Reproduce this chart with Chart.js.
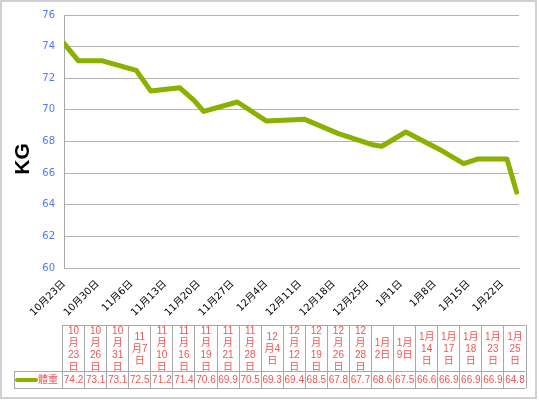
<!DOCTYPE html>
<html>
<head>
<meta charset="utf-8">
<title>體重</title>
<script src="https://cdn.jsdelivr.net/npm/chart.js@4.4.0/dist/chart.umd.min.js"></script>
<style>
    html, body { margin: 0; padding: 0; background: #fff; }
    #wrap { width: 539px; height: 402px; }
</style>
</head>
<body>
<div id="wrap"><canvas id="kayra" width="539" height="402"></canvas></div>
<script>
// data
const seriesName = '體重';
const axisTitle = 'KG';
const dates = [ '10/23', '10/26', '10/31', '11/7', '11/10', '11/16', '11/19', '11/21', '11/28', '12/4', '12/12',
    '12/19', '12/26', '12/28', '1/2', '1/9', '1/14', '1/17', '1/18', '1/23', '1/25' ];
const weights = [ 74.2, 73.1, 73.1, 72.5, 71.2, 71.4, 70.6, 69.9, 70.5, 69.3, 69.4,
    68.5, 67.8, 67.7, 68.6, 67.5, 66.6, 66.9, 66.9, 66.9, 64.8 ];
const tickDates = [ '10/23', '10/30', '11/6', '11/13', '11/20', '11/27', '12/4', '12/11', '12/18', '12/25',
    '1/1', '1/8', '1/15', '1/22' ];
const yTicks = [ 60, 62, 64, 66, 68, 70, 72, 74, 76 ];

const COLORS = {
    line: 'rgb(138, 176, 0)',
    red: 'rgb(240, 84, 84)',
    blue: 'rgb(80, 120, 250)',
    grid: 'rgb(180, 180, 180)',
    border: 'rgb(168, 168, 168)',
    frame: 'rgb(208, 208, 208)'
};
const FONT = '"Liberation Sans", "DejaVu Sans", "Noto Sans CJK TC", sans-serif';
const AXIS_FONT = '"DejaVu Sans", "Noto Sans CJK TC", sans-serif';

// days counted from the first date (oct-dec in the first year, jan in the next)
function dayNumber( d )
{
    const parts = d.split( '/' );
    const m = parseInt( parts[ 0 ] ), day = parseInt( parts[ 1 ] );
    const year = m >= 10 ? 2010 : 2011;
    return Math.round( ( Date.UTC( year, m - 1, day ) - Date.UTC( 2010, 9, 23 ) ) / 86400000 );
}

function dateLabel( d )
{
    const parts = d.split( '/' );
    return parts[ 0 ] + '月' + parts[ 1 ] + '日';
}

// split into digit groups and single characters, then wrap greedily
function wrapLabel( ctx, text, maxW )
{
    const tokens = text.match( /\d+|./g );
    const lines = [];
    let cur = '';
    tokens.forEach( function ( t )
    {
        if ( cur && ctx.measureText( cur + t ).width > maxW )
        {
            lines.push( cur );
            cur = t;
        }
        else
        {
            cur += t;
        }
    } );
    if ( cur ) lines.push( cur );
    return lines;
}

const tablePlugin = {
    id: 'dataTable',
    beforeDraw: function ( chart )
    {
        const ctx = chart.ctx;
        ctx.save();
        ctx.fillStyle = '#fff';
        ctx.fillRect( 0, 0, chart.width, chart.height );
        ctx.restore();
    },
    afterDraw: function ( chart )
    {
        const ctx = chart.ctx;
        const legendLeft = 14, tableLeft = 62, tableRight = 525.5;
        const headTop = 325, rowTop = 371, rowBottom = 388;
        const colW = ( tableRight - tableLeft ) / dates.length;

        ctx.save();

        // outer frame
        ctx.strokeStyle = COLORS.frame;
        ctx.lineWidth = 2;
        ctx.strokeRect( 1, 1, 535, 397 );

        // axis title
        ctx.save();
        ctx.translate( 23, 159 );
        ctx.rotate( -Math.PI / 2 );
        ctx.fillStyle = '#000';
        ctx.font = 'bold 21px "Liberation Sans Narrow", "Liberation Sans", sans-serif';
        ctx.textAlign = 'center';
        ctx.textBaseline = 'middle';
        ctx.fillText( axisTitle, 0, 0 );
        ctx.restore();

        // grid of the table
        ctx.strokeStyle = COLORS.border;
        ctx.lineWidth = 1;
        ctx.beginPath();
        ctx.moveTo( tableLeft, headTop + .5 );
        ctx.lineTo( tableRight, headTop + .5 );
        ctx.moveTo( legendLeft, rowTop + .5 );
        ctx.lineTo( tableRight, rowTop + .5 );
        ctx.moveTo( legendLeft, rowBottom + .5 );
        ctx.lineTo( tableRight, rowBottom + .5 );
        ctx.moveTo( legendLeft + .5, rowTop );
        ctx.lineTo( legendLeft + .5, rowBottom );
        for ( let i = 0; i <= dates.length; i++ )
        {
            const x = Math.round( tableLeft + i * colW ) + .5;
            ctx.moveTo( x, headTop );
            ctx.lineTo( x, rowBottom );
        }
        ctx.stroke();

        // header and value texts
        ctx.fillStyle = COLORS.red;
        ctx.font = '10px ' + FONT;
        ctx.textAlign = 'center';
        ctx.textBaseline = 'middle';
        const lineH = 12;
        const headMid = ( headTop + rowTop ) / 2 + 1;
        dates.forEach( function ( d, i )
        {
            const cx = tableLeft + ( i + .5 ) * colW + .5;
            const lines = wrapLabel( ctx, dateLabel( d ), 20 );
            const y0 = headMid - ( lines.length - 1 ) * lineH / 2;
            lines.forEach( function ( l, j )
            {
                ctx.fillText( l, cx, y0 + j * lineH );
            } );
            ctx.fillText( weights[ i ].toFixed( 1 ), cx, ( rowTop + rowBottom ) / 2 + 1 );
        } );

        // legend key
        ctx.strokeStyle = COLORS.line;
        ctx.lineWidth = 4;
        ctx.lineCap = 'round';
        ctx.beginPath();
        ctx.moveTo( 17, 380 );
        ctx.lineTo( 36, 380 );
        ctx.stroke();
        ctx.textAlign = 'left';
        ctx.fillText( seriesName, 38, 380 );

        ctx.restore();
    }
};

const points = dates.map( function ( d, i )
{
    return { x: dayNumber( d ), y: weights[ i ] };
} );

const config = {
    type: 'line',
    data: {
        datasets: [
            {
                label: seriesName,
                data: points,
                borderColor: COLORS.line,
                backgroundColor: COLORS.line,
                borderWidth: 5,
                borderCapStyle: 'round',
                borderJoinStyle: 'round',
                pointRadius: 0,
                tension: 0
            }
        ]
    },
    options: {
        responsive: false,
        animation: false,
        layout: {
            padding: { left: 10, top: 14, right: 20, bottom: 78 }
        },
        plugins: {
            legend: { display: false },
            tooltip: { enabled: false },
            title: { display: false }
        },
        scales: {
            x: {
                type: 'linear',
                min: 0,
                max: dayNumber( '1/25' ) + .5,
                afterFit: function ( scale ) { scale.height = 56; },
                afterBuildTicks: function ( scale )
                {
                    scale.ticks = tickDates.map( function ( d ) { return { value: dayNumber( d ) }; } );
                },
                ticks: {
                    autoSkip: false,
                    maxRotation: 45,
                    minRotation: 45,
                    padding: 10,
                    color: '#000',
                    font: { family: AXIS_FONT, size: 10 },
                    callback: function ( value )
                    {
                        const d = tickDates.find( function ( t ) { return dayNumber( t ) === value; } );
                        return d ? dateLabel( d ) : '';
                    }
                },
                grid: { display: false, drawTicks: false },
                border: { display: true, color: COLORS.grid, width: 1 }
            },
            y: {
                min: yTicks[ 0 ],
                max: yTicks[ yTicks.length - 1 ],
                afterFit: function ( scale ) { scale.width = 54; },
                afterBuildTicks: function ( scale )
                {
                    scale.ticks = yTicks.map( function ( v ) { return { value: v }; } );
                },
                ticks: {
                    padding: 9,
                    color: COLORS.blue,
                    font: { family: AXIS_FONT, size: 10 }
                },
                grid: { color: COLORS.grid, lineWidth: 1, drawTicks: false },
                border: { display: true, color: COLORS.border, width: 1 }
            }
        }
    },
    plugins: [ tablePlugin ]
};

new Chart( document.getElementById( 'kayra' ).getContext( '2d' ), config );
</script>
</body>
</html>
